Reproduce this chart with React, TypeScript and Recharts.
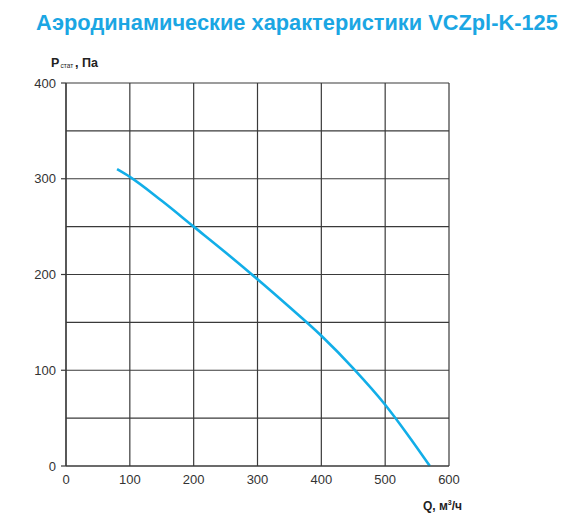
import React from "react";
import { LineChart, Line, XAxis, YAxis, CartesianGrid } from "recharts";

const qValues = [80, 100, 150, 200, 250, 300, 350, 400, 450, 500, 535, 570];
const pValues = [310, 302, 277, 250, 223, 195, 166, 136, 102, 64, 33, 0];
const xTicks = [0, 100, 200, 300, 400, 500, 600];
const yTicks = [0, 100, 200, 300, 400];
const yGrid = [0, 50, 100, 150, 200, 250, 300, 350, 400];

const data = qValues.map((q, i) => ({ q, p: pValues[i] }));

const FONT = "'Liberation Sans', Arial, sans-serif";
const GRID = "#3a3a3a";

export default function App() {
  return (
    <div style={{ position: "absolute", left: 0, top: 0, width: 574, height: 532, background: "#fff", fontFamily: FONT }}>
      <LineChart width={574} height={532} data={data} margin={{ top: 83, right: 125, bottom: 0, left: 0 }}>
        <CartesianGrid stroke={GRID} strokeWidth={1.2} horizontalValues={yGrid} verticalValues={xTicks} />
        <XAxis
          dataKey="q"
          type="number"
          domain={[0, 600]}
          ticks={xTicks}
          height={66}
          tickLine={false}
          tickSize={5}
          tickMargin={4}
          axisLine={{ stroke: GRID, strokeWidth: 1.2 }}
          tick={{ fill: "#333", fontSize: 13, fontFamily: FONT }}
        />
        <YAxis
          type="number"
          domain={[0, 400]}
          ticks={yTicks}
          width={66}
          tickSize={5}
          tickMargin={5}
          tickLine={{ stroke: GRID, strokeWidth: 1.2 }}
          axisLine={{ stroke: GRID, strokeWidth: 1.2 }}
          tick={{ fill: "#333", fontSize: 13, fontFamily: FONT }}
        />
        <Line
          type="monotone"
          dataKey="p"
          stroke="#12aee8"
          strokeWidth={2.6}
          dot={false}
          isAnimationActive={false}
        />
      </LineChart>
      <svg width={574} height={532} style={{ position: "absolute", left: 0, top: 0, pointerEvents: "none" }}>
        <text x={36} y={30} fill="#1ba6e3" fontSize={21.8} fontWeight="bold" fontFamily={FONT}>
          Аэродинамические характеристики VCZpl-K-125
        </text>
        <text x={51} y={67} fill="#222" fontSize={12.5} fontWeight="bold" fontFamily={FONT}>
          P<tspan x={60.5} fontSize={6.5} dy={1} fontWeight="normal">стат</tspan><tspan x={75} dy={-1}>, Па</tspan>
        </text>
        <text x={462} y={510} textAnchor="end" fill="#222" fontSize={12} fontWeight="bold" fontFamily={FONT}>
          Q, м<tspan fontSize={7} dy={-5}>3</tspan><tspan dy={5}>/ч</tspan>
        </text>
      </svg>
    </div>
  );
}
